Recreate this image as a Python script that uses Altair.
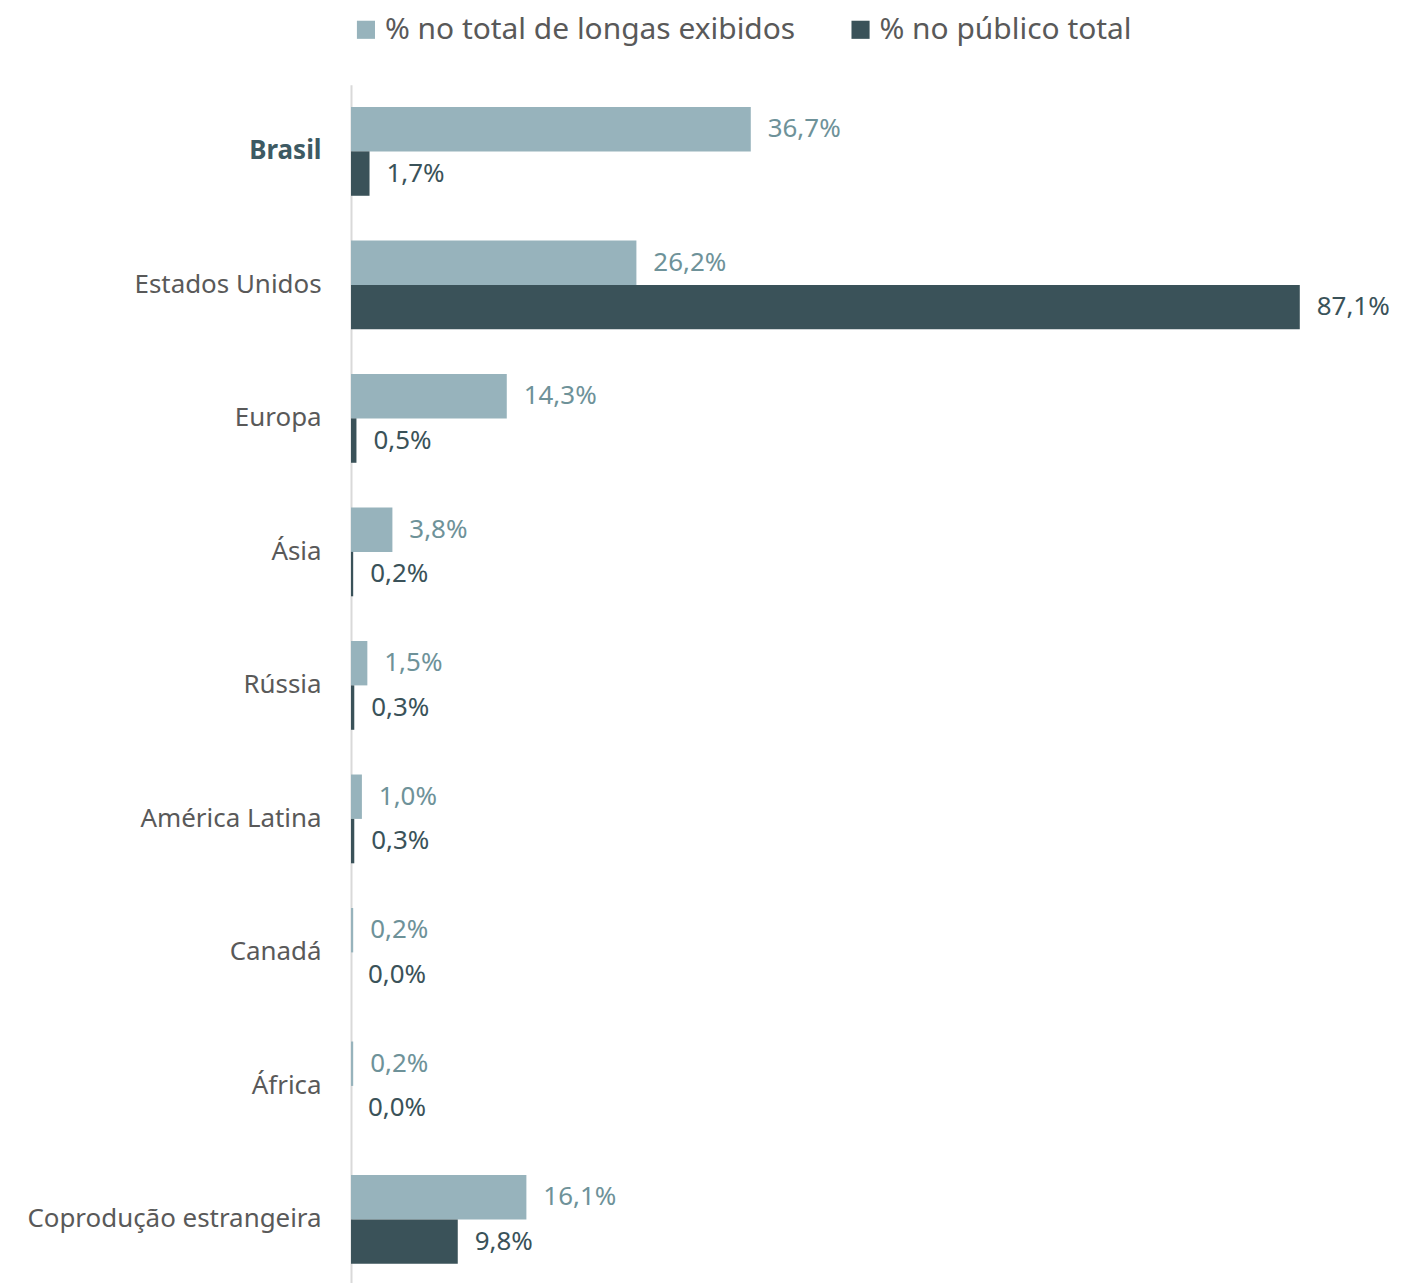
import altair as alt
import pandas as pd

categories = ["Brasil", "Estados Unidos", "Europa", "Ásia", "Rússia",
              "América Latina", "Canadá", "África", "Coprodução estrangeira"]
longas = [36.7, 26.2, 14.3, 3.8, 1.5, 1.0, 0.2, 0.2, 16.1]
publico = [1.7, 87.1, 0.5, 0.2, 0.3, 0.3, 0.0, 0.0, 9.8]
series = ["% no total de longas exibidos", "% no público total"]

rows = []
for c, a, b in zip(categories, longas, publico):
    rows.append({"cat": c, "serie": series[0], "v": a})
    rows.append({"cat": c, "serie": series[1], "v": b})
df = pd.DataFrame(rows)

FONT = "Noto Sans"
light, dark = "#97b3bc", "#3a5259"

y = alt.Y("cat:N", sort=categories, title=None,
          scale=alt.Scale(paddingInner=0.335, paddingOuter=0.1675),
          axis=alt.Axis(ticks=False, domain=True, domainColor="#d9d9d9", domainWidth=2,
                        labelPadding=30, labelFontSize=26, labelFont=FONT, labelLimit=400,
                        labelColor={"condition": {"test": "datum.value == 'Brasil'", "value": "#3d5a63"}, "value": "#595959"},
                        labelFontWeight={"condition": {"test": "datum.value == 'Brasil'", "value": "bold"}, "value": "normal"}))
x = alt.X("v:Q", title=None, scale=alt.Scale(domain=[0, 95.2], nice=False),
          axis=None)
color = alt.Color("serie:N", sort=series, title=None,
                  scale=alt.Scale(domain=series, range=[light, dark]),
                  legend=alt.Legend(orient="top", direction="horizontal", symbolType="square",
                                    symbolSize=330, symbolStrokeWidth=0, labelFontSize=30, labelFont=FONT,
                                    labelColor="#595959", columnPadding=50, padding=0, offset=40,
                                    labelLimit=600))
yoff = alt.YOffset("serie:N", sort=series, scale=alt.Scale(domain=series, paddingInner=0, paddingOuter=0))

bars = alt.Chart(df).mark_bar().encode(y=y, x=x, color=color, yOffset=yoff)
text = alt.Chart(df).transform_calculate(
    lab="replace(format(datum.v, '.1f'), '.', ',') + '%'"
).mark_text(align="left", baseline="middle", dx=17, fontSize=26, font=FONT).encode(
    y=y, x=x, yOffset=yoff, text="lab:N",
    color=alt.Color("serie:N", scale=alt.Scale(domain=series, range=["#6e9299", dark]), legend=None))

chart = alt.layer(bars, text).resolve_scale(color="independent").properties(
    width=1040, height=1205,
    padding={"left": 18, "top": 5, "right": 5, "bottom": 5}
).configure(background="white", view=alt.ViewConfig(stroke=None))

chart.save("out.html", embed_options={"renderer": "svg", "actions": False})
